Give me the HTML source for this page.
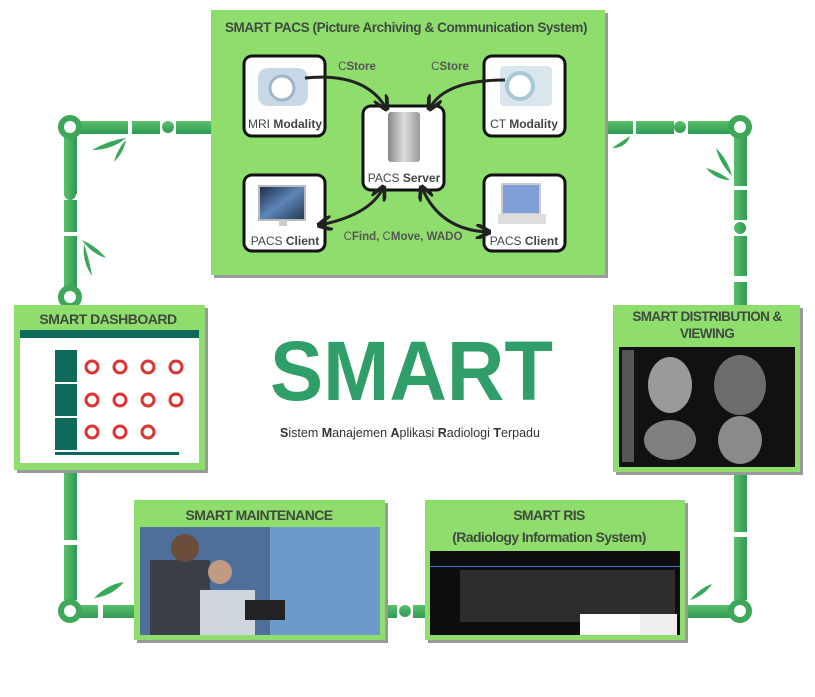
<!DOCTYPE html>
<html><head><meta charset="utf-8"><style>
html,body{margin:0;padding:0;background:#fff;}
body{width:815px;height:692px;overflow:hidden;font-family:"Liberation Sans",sans-serif;}
</style></head><body>
<svg width="815" height="692" viewBox="0 0 815 692" xmlns="http://www.w3.org/2000/svg" font-family="Liberation Sans, sans-serif">
<defs>
<linearGradient id="bh" x1="0" y1="0" x2="0" y2="1"><stop offset="0" stop-color="#5cc06a"/><stop offset="1" stop-color="#2f9a55"/></linearGradient>
<linearGradient id="bv" x1="0" y1="0" x2="1" y2="0"><stop offset="0" stop-color="#5cc06a"/><stop offset="1" stop-color="#2f9a55"/></linearGradient>
<linearGradient id="mri" x1="0" y1="0" x2="1" y2="1"><stop offset="0" stop-color="#1c2a44"/><stop offset="0.5" stop-color="#5d86b8"/><stop offset="1" stop-color="#233550"/></linearGradient>
<linearGradient id="srv" x1="0" y1="0" x2="1" y2="0"><stop offset="0" stop-color="#888"/><stop offset="0.5" stop-color="#ddd"/><stop offset="1" stop-color="#999"/></linearGradient>
<marker id="ar" viewBox="0 0 10 10" refX="8" refY="5" markerWidth="5" markerHeight="5" orient="auto-start-reverse"><path d="M0,0 L10,5 L0,10" fill="none" stroke="#222" stroke-width="2.5"/></marker>
</defs>

<g fill="url(#bh)">
<rect x="70" y="121" width="58" height="13"/><rect x="132" y="121" width="28" height="13"/><rect x="176" y="121" width="36" height="13"/>
<circle cx="168" cy="127" r="6"/>
<rect x="605" y="121" width="28" height="13"/><rect x="636" y="121" width="38" height="13"/><rect x="688" y="121" width="52" height="13"/>
<circle cx="680" cy="127" r="6"/>
<rect x="70" y="605" width="28" height="13"/><rect x="103" y="605" width="32" height="13"/>
<rect x="385" y="605" width="12" height="13"/><rect x="413" y="605" width="12" height="13"/><circle cx="405" cy="611" r="6"/>
<rect x="685" y="605" width="55" height="13"/>
</g>
<g fill="url(#bv)">
<rect x="64" y="134" width="13" height="60"/><rect x="64" y="200" width="13" height="32"/><circle cx="70" cy="194" r="6"/>
<rect x="64" y="236" width="13" height="56"/>
<rect x="734" y="134" width="13" height="52"/><rect x="734" y="190" width="13" height="30"/><circle cx="740" cy="228" r="6"/>
<rect x="734" y="236" width="13" height="40"/><rect x="734" y="282" width="13" height="24"/>
<rect x="64" y="470" width="13" height="70"/><rect x="64" y="545" width="13" height="55"/>
<rect x="734" y="472" width="13" height="60"/><rect x="734" y="537" width="13" height="63"/>
</g>
<g fill="#fff" stroke="#3ea85a" stroke-width="6">
<circle cx="70" cy="127" r="9"/><circle cx="740" cy="127" r="9"/><circle cx="70" cy="297" r="9"/>
<circle cx="70" cy="611" r="9"/><circle cx="740" cy="611" r="9"/>
</g>
<g fill="#3aa85a">
<path d="M92,150 Q110,140 126,138 Q112,150 92,150Z"/><path d="M114,162 Q118,148 126,140 Q124,152 114,162Z"/>
<path d="M82,240 Q96,246 106,258 Q92,254 82,240Z"/><path d="M84,244 Q90,262 92,276 Q82,262 84,244Z"/>
<path d="M612,148 Q624,140 630,136 Q626,148 612,148Z"/><path d="M716,148 Q728,160 732,176 Q720,164 716,148Z"/><path d="M706,168 Q720,172 730,180 Q716,180 706,168Z"/>
<path d="M94,598 Q108,584 124,582 Q112,596 94,598Z"/><path d="M690,600 Q700,588 712,584 Q704,596 690,600Z"/>
</g>

<rect x="214" y="13" width="394" height="265" fill="#9a9a9a"/>
<rect x="211" y="10" width="394" height="265" fill="#8fdd6c"/>
<text x="406" y="32" text-anchor="middle" font-size="13.5" font-weight="bold" fill="#3f4a3f" letter-spacing="-0.4">SMART PACS (Picture Archiving &amp; Communication System)</text>
<g stroke="#111" stroke-width="3" fill="#fff">
<rect x="244" y="56" width="81" height="80" rx="8"/>
<rect x="484" y="56" width="81" height="80" rx="8"/>
<rect x="363" y="106" width="81" height="84" rx="8"/>
<rect x="244" y="175" width="81" height="76" rx="8"/>
<rect x="484" y="175" width="81" height="76" rx="8"/>
</g>
<rect x="258" y="68" width="50" height="38" rx="10" fill="#c9d8e6"/><circle cx="282" cy="88" r="12" fill="#fff" stroke="#9fb6cc" stroke-width="3"/>
<rect x="500" y="66" width="52" height="40" rx="4" fill="#d9e6ee"/><circle cx="520" cy="86" r="13" fill="#fff" stroke="#a8c8d8" stroke-width="4"/>
<rect x="388" y="112" width="32" height="50" rx="3" fill="url(#srv)"/>
<rect x="259" y="186" width="46" height="34" fill="url(#mri)" stroke="#bbb" stroke-width="2"/><rect x="279" y="220" width="8" height="6" fill="#ccc"/>
<rect x="502" y="184" width="38" height="30" fill="#7f9fd6" stroke="#ccc" stroke-width="2"/><rect x="498" y="214" width="48" height="10" fill="#ddd"/>
<g font-size="12" fill="#444" text-anchor="middle">
<text x="285" y="128">MRI <tspan font-weight="bold">Modality</tspan></text>
<text x="524" y="128">CT <tspan font-weight="bold">Modality</tspan></text>
<text x="404" y="182">PACS <tspan font-weight="bold">Server</tspan></text>
<text x="285" y="245">PACS <tspan font-weight="bold">Client</tspan></text>
<text x="524" y="245">PACS <tspan font-weight="bold">Client</tspan></text>
</g>
<g font-size="11.5" fill="#555" text-anchor="middle">
<text x="357" y="70">C<tspan font-weight="bold">Store</tspan></text>
<text x="450" y="70">C<tspan font-weight="bold">Store</tspan></text>
<text x="403" y="240">C<tspan font-weight="bold">Find, </tspan>C<tspan font-weight="bold">Move, WADO</tspan></text>
</g>
<g stroke="#222" stroke-width="3" fill="none">
<path d="M305,78 Q365,72 386,108" marker-end="url(#ar)"/>
<path d="M505,80 Q445,80 430,108" marker-end="url(#ar)"/>
<path d="M320,225 Q370,215 383,188" marker-start="url(#ar)" marker-end="url(#ar)"/>
<path d="M422,188 Q440,230 488,232" marker-start="url(#ar)" marker-end="url(#ar)"/>
</g>

<rect x="17" y="308" width="191" height="165" fill="#9a9a9a"/>
<rect x="14" y="305" width="191" height="165" fill="#8fdd6c"/>
<text x="108" y="324" text-anchor="middle" font-size="14" font-weight="bold" fill="#3f4a3f" letter-spacing="-0.5">SMART DASHBOARD</text>
<rect x="20" y="330" width="179" height="133" fill="#fff"/>
<rect x="20" y="330" width="179" height="8" fill="#0e6a5a"/>
<rect x="55" y="350" width="22" height="32" fill="#0e6a5a"/><rect x="55" y="384" width="22" height="32" fill="#0e6a5a"/><rect x="55" y="418" width="22" height="32" fill="#0e6a5a"/>
<g fill="none" stroke="#d33" stroke-width="3">
<circle cx="92" cy="367" r="6"/><circle cx="120" cy="367" r="6"/><circle cx="148" cy="367" r="6"/><circle cx="176" cy="367" r="6"/>
<circle cx="92" cy="400" r="6"/><circle cx="120" cy="400" r="6"/><circle cx="148" cy="400" r="6"/><circle cx="176" cy="400" r="6"/>
<circle cx="92" cy="432" r="6"/><circle cx="120" cy="432" r="6"/><circle cx="148" cy="432" r="6"/>
</g>
<rect x="55" y="452" width="124" height="3" fill="#0e6a5a"/>

<rect x="616" y="308" width="187" height="167" fill="#9a9a9a"/>
<rect x="613" y="305" width="187" height="167" fill="#8fdd6c"/>
<text x="707" y="321" text-anchor="middle" font-size="13.5" font-weight="bold" fill="#3f4a3f" letter-spacing="-0.6">SMART DISTRIBUTION &amp;</text>
<text x="707" y="338" text-anchor="middle" font-size="13.5" font-weight="bold" fill="#3f4a3f" letter-spacing="-0.6">VIEWING</text>
<rect x="619" y="347" width="176" height="120" fill="#111"/>
<rect x="622" y="350" width="12" height="112" fill="#555"/>
<ellipse cx="670" cy="385" rx="22" ry="28" fill="#9a9a9a"/><ellipse cx="740" cy="385" rx="26" ry="30" fill="#6c6c6c"/>
<ellipse cx="670" cy="440" rx="26" ry="20" fill="#808080"/><ellipse cx="740" cy="440" rx="22" ry="24" fill="#8a8a8a"/>

<rect x="137" y="503" width="251" height="140" fill="#9a9a9a"/>
<rect x="134" y="500" width="251" height="140" fill="#8fdd6c"/>
<text x="259" y="520" text-anchor="middle" font-size="14" font-weight="bold" fill="#3f4a3f" letter-spacing="-0.6">SMART MAINTENANCE</text>
<rect x="140" y="527" width="240" height="108" fill="#4d6f9a"/>
<rect x="270" y="527" width="110" height="108" fill="#6d9acb"/>
<rect x="150" y="560" width="60" height="75" fill="#3c3f46"/><circle cx="185" cy="548" r="14" fill="#6b4d3a"/>
<rect x="200" y="590" width="55" height="45" fill="#cfd6de"/><circle cx="220" cy="572" r="12" fill="#c09a82"/>
<rect x="245" y="600" width="40" height="20" fill="#222"/>

<rect x="428" y="503" width="260" height="140" fill="#9a9a9a"/>
<rect x="425" y="500" width="260" height="140" fill="#8fdd6c"/>
<text x="549" y="520" text-anchor="middle" font-size="14" font-weight="bold" fill="#3f4a3f" letter-spacing="-0.6">SMART RIS</text>
<text x="549" y="542" text-anchor="middle" font-size="14" font-weight="bold" fill="#3f4a3f" letter-spacing="-0.6">(Radiology Information System)</text>
<rect x="430" y="551" width="250" height="84" fill="#0d0d0d"/>
<rect x="430" y="566" width="250" height="1" fill="#3b7bd6"/>
<rect x="460" y="570" width="215" height="52" fill="#2d2d2d"/>
<rect x="580" y="614" width="97" height="21" fill="#fff"/>
<rect x="640" y="614" width="37" height="21" fill="#eee"/>

<text x="270" y="400" textLength="283" lengthAdjust="spacingAndGlyphs" font-size="84" font-weight="bold" fill="#2f9e68">SMART</text>
<text x="410" y="437" text-anchor="middle" font-size="12.5" fill="#333"><tspan font-weight="bold">S</tspan>istem <tspan font-weight="bold">M</tspan>anajemen <tspan font-weight="bold">A</tspan>plikasi <tspan font-weight="bold">R</tspan>adiologi <tspan font-weight="bold">T</tspan>erpadu</text>
</svg>
</body></html>
